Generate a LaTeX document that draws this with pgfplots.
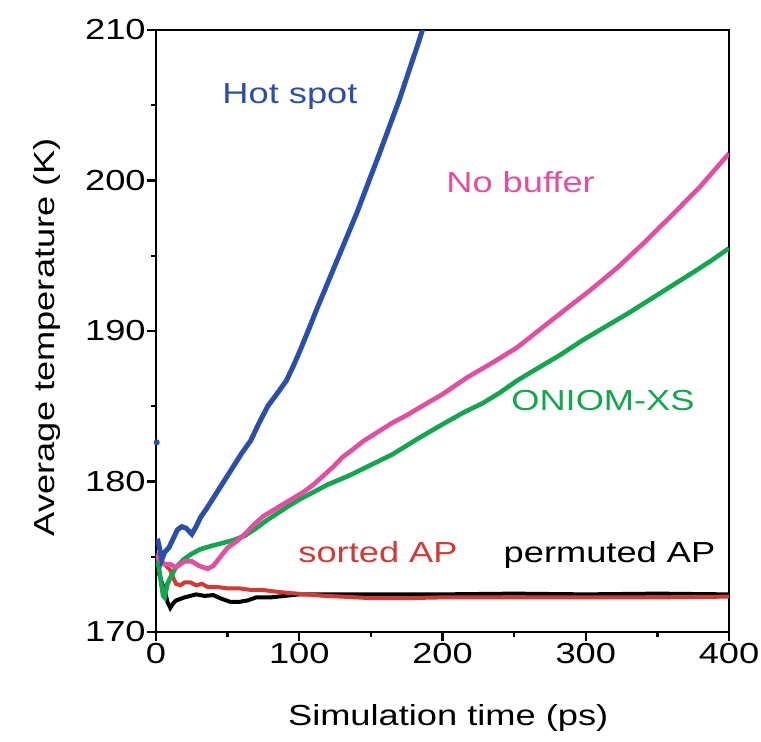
\documentclass[border=0pt]{standalone}
\usepackage{pgfplots}
\pgfplotsset{compat=1.18}
\usepackage{fontspec}
\setmainfont[FakeStretch=1.25]{Liberation Sans}

\definecolor{hotblue}{HTML}{2B4EAA}
\definecolor{nobuf}{HTML}{E24FA0}
\definecolor{oniom}{HTML}{14A64E}
\definecolor{sortred}{HTML}{D23A36}

\begin{document}
\begin{tikzpicture}
\begin{axis}[
    at={(0,0)}, anchor=south west,
    scale only axis,
    width=286.5pt, height=301pt,
    xmin=0, xmax=400, ymin=170, ymax=210,
    xtick={0,100,200,300,400},
    ytick={170,180,190,200,210},
    minor x tick num=1, minor y tick num=1,
    tick align=outside, tick pos=left,
    major tick length=4.5pt, minor tick length=2.5pt,
    tick style={line width=1.2pt, black},
    axis line style={line width=1.2pt},
    font=\fontsize{14.5}{17}\selectfont,
    /pgf/number format/assume math mode=true,
    xticklabel style={inner sep=1pt},
    yticklabel style={inner sep=0.5pt},
    xlabel={Simulation time (ps)},
    ylabel={Average temperature (K)},
    xlabel style={at={(axis description cs:0.51,0)}, anchor=base, yshift=-46.5pt},
    ylabel style={at={(axis description cs:-0.1763,0.49)}, anchor=base},
    clip mode=individual,
]
% permuted AP
\addplot[black, line width=2pt] coordinates {
(0,174.4) (2,173.9) (4,173.3) (6,172.8) (8,172.0) (10,171.6) (12,171.9) (14,172.1)
(17,172.2) (20,172.3) (24,172.4) (28,172.5) (34,172.4) (40,172.45) (46,172.2)
(52,172.0) (58,172.0) (64,172.1) (70,172.3) (80,172.3) (90,172.4) (100,172.5)
(120,172.5) (150,172.5) (200,172.5) (250,172.55) (300,172.5) (350,172.55) (400,172.5)
};
% sorted AP
\addplot[sortred, line width=2pt] coordinates {
(0,175.2) (2,175.0) (4,174.7) (7,174.4) (10,174.1) (12,173.6) (14,173.2) (17,173.1)
(20,173.3) (24,173.3) (28,173.1) (32,173.2) (36,173.0) (42,173.0) (50,172.9)
(58,172.9) (66,172.8) (74,172.8) (82,172.7) (92,172.6) (105,172.5) (118,172.4)
(130,172.35) (150,172.25) (175,172.25) (200,172.3) (250,172.3) (300,172.3)
(350,172.3) (400,172.35)
};
% ONIOM-XS
\addplot[oniom, line width=2.3pt] coordinates {
(0,175.0) (2,174.3) (4,173.0) (5,172.4) (6,172.3) (8,173.2) (11,173.8) (14,174.3)
(19,174.8) (25,175.2) (31,175.5) (38,175.7) (46,175.9) (54,176.1) (62,176.4)
(70,176.9) (77,177.4) (85,177.9) (93,178.4) (100,178.8) (110,179.3) (120,179.8)
(135,180.4) (150,181.1) (165,181.8) (182,182.8) (200,183.8) (215,184.6) (228,185.2)
(240,185.9) (252,186.7) (266,187.5) (282,188.4) (298,189.4) (314,190.3) (330,191.2)
(345,192.1) (360,193.0) (375,193.9) (388,194.7) (400,195.5)
};
% No buffer
\addplot[nobuf, line width=2.3pt] coordinates {
(0,175.1) (3,174.8) (6,174.5) (10,174.5) (14,174.3) (20,174.7) (25,174.7) (30,174.4)
(36,174.2) (40,174.4) (45,175.0) (50,175.6) (56,176.0) (62,176.5) (68,177.1)
(75,177.7) (82,178.1) (89,178.5) (96,178.9) (103,179.3) (110,179.8) (117,180.4)
(124,181.0) (130,181.6) (137,182.1) (145,182.7) (155,183.3) (165,183.9) (175,184.4)
(182,184.8) (200,185.8) (217,186.9) (235,187.9) (252,188.9) (268,190.1) (284,191.3)
(303,192.7) (322,194.2) (340,195.8) (357,197.4) (379,199.5) (400,201.8)
};
% Hot spot
\addplot[hotblue, line width=2.5pt] coordinates {
(1,176.2) (2,175.8) (4,174.8) (6,175.3) (9,175.6) (12,176.2) (15,176.8) (18,177.0)
(21,176.9) (25,176.5) (28,177.0) (31,177.6) (36,178.3) (42,179.2) (48,180.1)
(54,181.0) (60,181.9) (66,182.7) (72,183.9) (78,185.0) (85,185.9) (91,186.7)
(96,187.7) (101,188.8) (107,190.2) (112,191.4) (119,193.0) (126,194.6) (133,196.2)
(140,197.8) (148,199.8) (156,201.8) (163,203.6) (170,205.4) (177,207.4) (183,209.1)
(187,210.3)
};
\addplot[only marks, mark=*, mark size=1.3pt, hotblue] coordinates {(0.5,182.6)};

\node[hotblue, anchor=base] at (axis cs:93.5,205.1) {Hot spot};
\node[nobuf, anchor=base] at (axis cs:254.5,199.2) {No buffer};
\node[oniom, anchor=base] at (axis cs:312,184.75) {ONIOM-XS};
\node[sortred, anchor=base] at (axis cs:155,174.6) {sorted AP};
\node[black, anchor=base] at (axis cs:316.6,174.6) {permuted AP};
\end{axis}
\pgfresetboundingbox
\path[use as bounding box] (-78pt,-54.5pt) rectangle (302.5pt,316pt);
\end{tikzpicture}
\end{document}
